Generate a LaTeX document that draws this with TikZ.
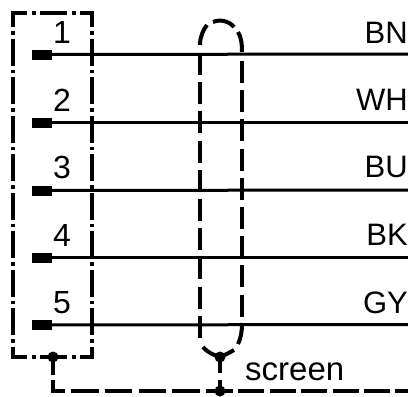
\documentclass[tikz,border=0pt]{standalone}
\usepackage{fontspec}
\setmainfont{Liberation Sans}
\tikzset{
    wire/.style={line width=3pt},
    pad/.style={fill=black, inner sep=0pt, minimum width=20pt, minimum height=10pt},
    label/.style={font=\fontsize{31}{31}\selectfont, inner sep=0pt},
    pinlabel/.style={font=\fontsize{32}{32}\selectfont, inner sep=0pt, anchor=base},
    housing/.style={line width=4pt, shorten <=-2pt, shorten >=-2pt},
    hside/.style={housing, dash pattern=on 27pt off 4pt on 3.5pt off 4pt, dash phase=11pt},
    htop/.style={housing, dash pattern=on 27pt off 4.5pt on 4pt off 4.5pt, dash phase=11pt},
    shield/.style={line width=4pt},
    shieldrun/.style={shield, dash pattern=on 22pt off 7.2pt},
    joint/.style={circle, fill=black, inner sep=0pt, minimum size=11pt}
}
\begin{document}
\begin{tikzpicture}[x=1pt,y=-1pt]
    \useasboundingbox (0,0) rectangle (408,397);
    \clip (0,0) rectangle (408,397);
    % housing
    \coordinate (TL) at (13,13);
    \coordinate (TR) at (92,13);
    \coordinate (BL) at (13,357);
    \coordinate (BR) at (92,357);
    \draw[htop] (TL) -- (TR);
    \draw[htop] (BL) -- (BR);
    \draw[hside] (TL) -- (BL);
    \draw[hside] (TR) -- (BR);
    % pads
    \node[pad] (P1) at (42,54.5) {};
    \node[pad] (P2) at (42,122.5) {};
    \node[pad] (P3) at (42,190.5) {};
    \node[pad] (P4) at (42,257.5) {};
    \node[pad] (P5) at (42,325) {};
    % right ends
    \coordinate (E1) at (408,54);
    \coordinate (E2) at (408,122.5);
    \coordinate (E3) at (408,190);
    \coordinate (E4) at (408,257.5);
    \coordinate (E5) at (408,324.5);
    % wires
    \draw[wire] (P1) -- (E1);
    \draw[wire] (P2) -- (E2);
    \draw[wire] (P3) -- (E3);
    \draw[wire] (P4) -- (E4);
    \draw[wire] (P5) -- (E5);
    % pin numbers
    \node[pinlabel] (N1) at (62,43) {1};
    \node[pinlabel] (N2) at (62,111) {2};
    \node[pinlabel] (N3) at (62,178) {3};
    \node[pinlabel] (N4) at (62,246) {4};
    \node[pinlabel] (N5) at (62,313) {5};
    % colours
    \node[label, anchor=base east] (BN) at (408,43) {BN};
    \node[label, anchor=base east] (WH) at (408,110) {WH};
    \node[label, anchor=base east] (BU) at (408,177) {BU};
    \node[label, anchor=base east] (BK) at (408,245) {BK};
    \node[label, anchor=base east] (GY) at (408,313) {GY};
    \node[label, font=\fontsize{33}{33}\selectfont, anchor=base west] (screen) at (245,380) {screen};
    % junctions
    \node[joint] (J1) at (53,357) {};
    \node[joint] (J2) at (220,357) {};
    \node[joint] (J3) at (220,391) {};
    \coordinate (G1) at (53,393);
    \coordinate (G0) at (51,391);
    \coordinate (G2) at (408,391);
    % shield
    \coordinate (SL1) at (200,53);
    \coordinate (SL2) at (200,338);
    \coordinate (SR1) at (242,61);
    \coordinate (SR2) at (242,320);
    \draw[shieldrun] (SL1) -- (SL2);
    \draw[shieldrun] (SR1) -- (SR2);
    \draw[shield] (200,45) .. controls (200,37) and (203,30) .. (207,25);
    \draw[shield] (213,22) .. controls (220,19) and (229,21) .. (234,27);
    \draw[shield] (238,32) .. controls (241,37) and (242,43) .. (242,52);
    \draw[shield] (242,323) .. controls (242,331) and (241,338) .. (238,344);
    \draw[shield] (203,347) .. controls (208,353) and (214,355) .. (J2.center);
    \draw[shield] (234,350) .. controls (229,353) and (225,355) .. (J2.center);
    \draw[shield] (J2.center) -- (220,373);
    \draw[shield] (220,380) -- (J3.center);
    % ground
    \draw[shield, dash pattern=on 18pt off 5pt on 28pt] (J1.center) -- (G1);
    \draw[shield, dash pattern=on 27.5pt off 6.2pt, dash phase=13.5pt] (G0) -- (J3.center);
    \draw[shield, dash pattern=on 26pt off 5.4pt, dash phase=13pt] (J3.center) -- (G2);
\end{tikzpicture}
\end{document}
